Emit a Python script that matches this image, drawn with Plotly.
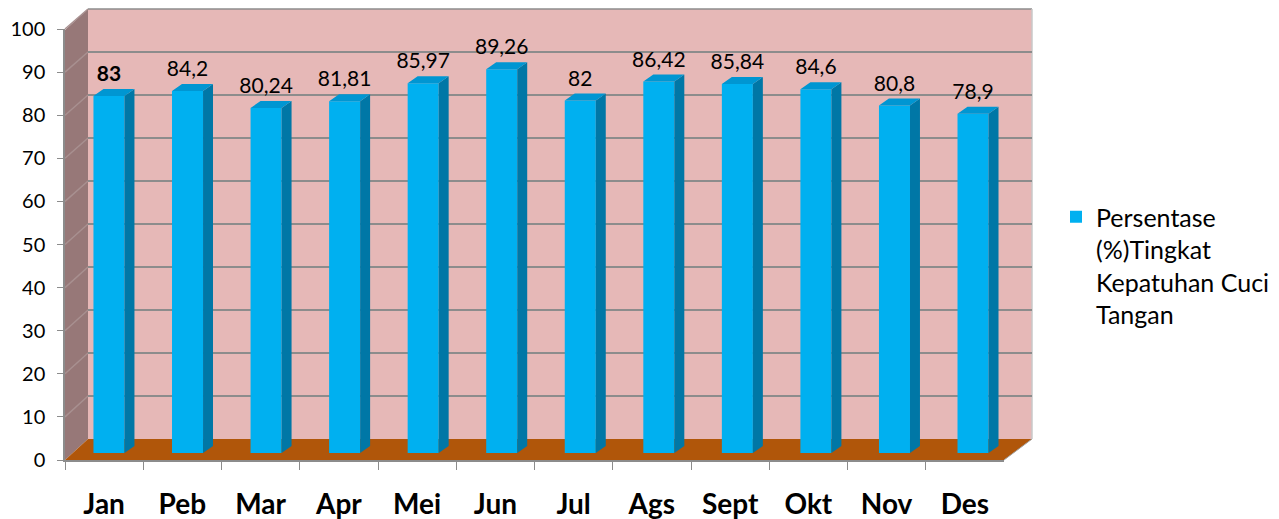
import plotly.graph_objects as go

# ---- data ----
months = ["Jan", "Peb", "Mar", "Apr", "Mei", "Jun", "Jul", "Ags", "Sept", "Okt", "Nov", "Des"]
values = [83, 84.2, 80.24, 81.81, 85.97, 89.26, 82, 86.42, 85.84, 84.6, 80.8, 78.9]
series_name = "Persentase<br>(%)Tingkat<br>Kepatuhan Cuci<br>Tangan"
y_ticks = list(range(0, 101, 10))

W, H = 1279, 519
OX, OY = 8, 8   # page body margin
FONT = "Lato"

def px(x):
    return (x - OX) / W

def py(y):
    return 1 - (y - OY) / H

FRONT = "#00B0F0"
SIDE = "#0077A6"
TOP = "#0096D2"
PINK = "#E6B8B7"
LEFTWALL = "#977878"
FLOOR = "#B0560A"
GRID = "#8C8C8C"

# bar geometry (in axis units)
bar_w = 0.395
dx = 0.127
dy = 1.63
hw = bar_w / 2

idx = list(range(len(months)))

fig = go.Figure()

fig.add_trace(go.Bar(
    x=idx, y=values, width=bar_w, name=series_name,
    marker=dict(color=FRONT, line=dict(width=0)),
    xaxis="x3", yaxis="y3", showlegend=True,
))

sx, sy = [], []
tx, ty = [], []
for i, v in zip(idx, values):
    sx += [i + hw, i + hw + dx, i + hw + dx, i + hw, i + hw, None]
    sy += [0, dy, v + dy, v, 0, None]
    tx += [i - hw, i + hw, i + hw + dx, i - hw + dx, i - hw, None]
    ty += [v, v, v + dy, v + dy, v, None]
fig.add_trace(go.Scatter(x=sx, y=sy, fill="toself", fillcolor=SIDE, mode="lines",
                         line=dict(width=0, color=SIDE), xaxis="x3", yaxis="y3",
                         showlegend=False, hoverinfo="skip"))
fig.add_trace(go.Scatter(x=tx, y=ty, fill="toself", fillcolor=TOP, mode="lines",
                         line=dict(width=0, color=TOP), xaxis="x3", yaxis="y3",
                         showlegend=False, hoverinfo="skip"))

labels = [f"{v:g}".replace(".", ",") for v in values]
labels[0] = f"<b>{labels[0]}</b>"
fig.add_trace(go.Scatter(x=idx, y=[v + dy + 0.6 for v in values], mode="text", text=labels,
                         textposition="top center",
                         textfont=dict(family=FONT, size=21, color="#000000"),
                         xaxis="x3", yaxis="y3", showlegend=False, hoverinfo="skip"))

fig.add_trace(go.Scatter(x=months, y=[None] * len(months), mode="markers",
                         xaxis="x", yaxis="y", showlegend=False, hoverinfo="skip"))
fig.add_trace(go.Scatter(x=[0], y=[None], mode="markers", xaxis="x2", yaxis="y2",
                         showlegend=False, hoverinfo="skip"))

shapes = []
shapes.append(dict(type="rect", xref="paper", yref="paper", x0=px(88), x1=px(1032),
                   y0=py(439), y1=py(9), fillcolor=PINK, line=dict(width=0), layer="below"))
shapes.append(dict(type="path", xref="paper", yref="paper",
                   path=f"M{px(65)},{py(460)} L{px(65)},{py(30)} L{px(88)},{py(9)} L{px(88)},{py(439)} Z",
                   fillcolor=LEFTWALL, line=dict(width=0), layer="below"))
shapes.append(dict(type="path", xref="paper", yref="paper",
                   path=f"M{px(65)},{py(460)} L{px(1004)},{py(460)} L{px(1032)},{py(439)} L{px(88)},{py(439)} Z",
                   fillcolor=FLOOR, line=dict(width=0), layer="below"))
for t in y_ticks[1:]:
    yf = 460 - 4.31 * t
    yb = 439 - 4.30 * t
    shapes.append(dict(type="line", xref="paper", yref="paper", x0=px(65), y0=py(yf),
                       x1=px(88), y1=py(yb), line=dict(color="#A89090", width=1.5), layer="below"))
shapes.append(dict(type="line", xref="paper", yref="paper", x0=px(88), y0=py(9),
                   x1=px(1032), y1=py(9), line=dict(color=GRID, width=1.5), layer="below"))
shapes.append(dict(type="line", xref="paper", yref="paper", x0=px(1004), y0=py(460),
                   x1=px(1032), y1=py(439), line=dict(color="#A0A0A0", width=1), layer="below"))
shapes.append(dict(type="line", xref="paper", yref="paper", x0=px(1032), y0=py(439),
                   x1=px(1032), y1=py(9), line=dict(color="#C8C8C8", width=1.5), layer="below"))

fig.update_layout(
    template="none",
    width=W, height=H, autosize=False,
    margin=dict(l=0, r=0, t=0, b=0, pad=0),
    paper_bgcolor="#FFFFFF", plot_bgcolor="rgba(0,0,0,0)",
    font=dict(family=FONT, color="#000000"),
    shapes=shapes,
    barmode="overlay",
    xaxis=dict(domain=[px(65), px(1004)], range=[-0.5, 11.5], type="category",
               categoryorder="array", categoryarray=months, automargin=False,
               tickson="boundaries", ticks="outside", ticklen=8, tickcolor="#8C8C8C",
               showline=True, linecolor="#8C8C8C", linewidth=1.5, showgrid=False,
               zeroline=False,
               tickfont=dict(family=FONT, size=28, color="#000000", weight="bold"),
               ticklabelstandoff=19, fixedrange=True),
    yaxis=dict(domain=[py(460), py(29)], range=[0, 100], tickvals=y_ticks, automargin=False,
               ticks="outside", ticklen=6, tickcolor="#8C8C8C",
               showline=True, linecolor="#8C8C8C", linewidth=1.5, showgrid=False,
               zeroline=False, tickfont=dict(family=FONT, size=20, color="#000000"),
               ticklabelstandoff=8, fixedrange=True),
    xaxis2=dict(domain=[px(88), px(1032)], range=[0, 1], visible=False, anchor="y2",
                automargin=False),
    yaxis2=dict(domain=[py(439), py(9)], range=[0, 100], tickvals=y_ticks, anchor="x2",
                automargin=False,
                showticklabels=False, ticks="", showgrid=True, gridcolor=GRID, gridwidth=1.5,
                zeroline=False, showline=False),
    xaxis3=dict(domain=[px(69.7), px(1012.3)], range=[-0.5, 11.5], visible=False, anchor="y3",
                automargin=False),
    yaxis3=dict(domain=[py(453), py(23)], range=[0, 100], visible=False, anchor="x3",
                automargin=False),
    legend=dict(x=px(1056), y=py(194), xanchor="left", yanchor="top", valign="top",
                font=dict(family=FONT, size=25, color="#000000"),
                bgcolor="rgba(0,0,0,0)", borderwidth=0),
)

fig.write_html("out.html")
